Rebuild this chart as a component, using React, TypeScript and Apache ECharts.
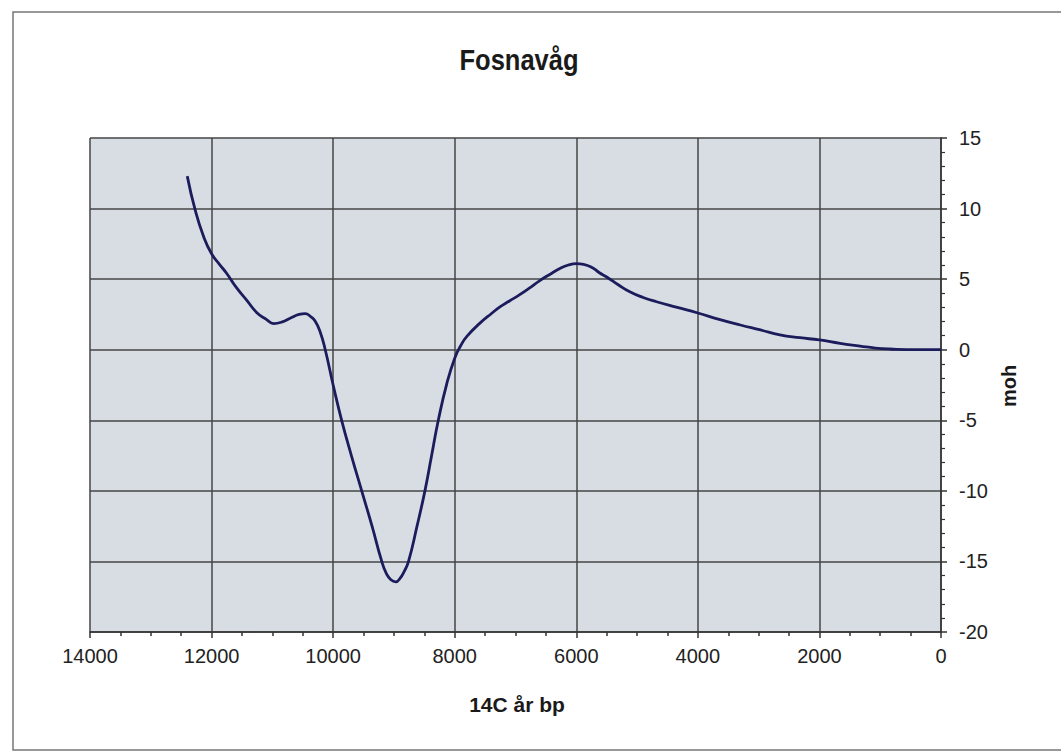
import React, { useEffect, useRef } from "react";
import * as echarts from "echarts";

const titleText = "Fosnavåg";
const xAxisName = "14C år bp";
const yAxisName = "moh";

// years BP (14C)
const years = [
  12400, 12270, 12130, 12000, 11870, 11750, 11600, 11420, 11250, 11100, 10980,
  10850, 10700, 10560, 10460, 10370, 10300, 10220, 10130, 10000, 9860, 9700, 9530,
  9360, 9200, 9120, 9050, 8970, 8900, 8830, 8760, 8620, 8490, 8380, 8270, 8130,
  8000, 7900, 7800, 7580, 7400, 7250, 7100, 6930, 6760, 6600, 6430, 6270, 6130,
  6000, 5880, 5720, 5620, 5500, 5310, 5120, 4900, 4680, 4340, 4000, 3650, 3300,
  2970, 2650, 2320, 2000, 1660, 1330, 1080, 840, 400, 0,
];
// sea level, m above present (moh)
const levels = [
  12.3, 9.9, 8.0, 6.8, 6.05, 5.4, 4.45, 3.5, 2.6, 2.15, 1.85,
  1.95, 2.25, 2.5, 2.55, 2.35, 2.05, 1.35, 0.0, -2.5, -5.0, -7.5, -10.0,
  -12.5, -15.0, -15.9, -16.3, -16.45, -16.2, -15.7, -15.0, -12.5, -10.0, -7.5, -5.0, -2.4,
  -0.6, 0.3, 0.95, 1.9, 2.55, 3.05, 3.45, 3.9, 4.4, 4.9, 5.35, 5.75, 6.0,
  6.1, 6.05, 5.77, 5.45, 5.15, 4.6, 4.1, 3.7, 3.4, 3.0, 2.6, 2.15, 1.75,
  1.4, 1.05, 0.85, 0.69, 0.45, 0.26, 0.12, 0.05, 0.0, 0.0,
];

const FONT = "'Liberation Sans', Arial, Helvetica, sans-serif";

export default function App() {
  const ref = useRef<HTMLDivElement>(null);
  useEffect(() => {
    if (!ref.current) return;
    const chart = echarts.init(ref.current, undefined, { renderer: "svg" });
    const data = years.map((y, i) => [y, levels[i]]);
    chart.setOption({
      animation: false,
      backgroundColor: "#ffffff",
      textStyle: { fontFamily: FONT },
      graphic: [
        {
          type: "rect",
          shape: { x: 13, y: 12, width: 1100, height: 738 },
          style: { fill: "none", stroke: "#777", lineWidth: 1.5 },
          z: -10,
        },
        {
          type: "text",
          x: 519,
          y: 60,
          scaleX: 0.85,
          style: {
            text: titleText,
            fontFamily: FONT,
            fontSize: 30,
            fontWeight: "bold",
            fill: "#1a1a1a",
            textAlign: "center",
            textVerticalAlign: "middle",
          },
        },
        {
          type: "text",
          x: 517,
          y: 704,
          style: {
            text: xAxisName,
            fontFamily: FONT,
            fontSize: 21,
            fontWeight: "bold",
            fill: "#1a1a1a",
            textAlign: "center",
            textVerticalAlign: "middle",
          },
        },
        {
          type: "text",
          x: 1009,
          y: 386,
          rotation: Math.PI / 2,
          style: {
            text: yAxisName,
            fontFamily: FONT,
            fontSize: 20,
            fontWeight: "bold",
            fill: "#1a1a1a",
            textAlign: "center",
            textVerticalAlign: "middle",
          },
        },
      ],
      grid: {
        left: 90,
        right: 120,
        top: 138,
        bottom: 120,
        show: true,
        backgroundColor: "#d8dde4",
        borderWidth: 0,
      },
      xAxis: {
        type: "value",
        inverse: true,
        min: 0,
        max: 14000,
        interval: 2000,
        axisLine: { show: true, onZero: false, lineStyle: { color: "#333", width: 1.5 } },
        axisTick: { show: true, inside: false, length: 6, lineStyle: { color: "#333", width: 1.5 } },
        minorTick: { show: true, splitNumber: 4, length: 4, lineStyle: { color: "#333", width: 1.5 } },
        axisLabel: {
          fontFamily: FONT,
          fontSize: 20,
          color: "#222",
          margin: 14,
          formatter: (v: number) => String(v),
        },
        splitLine: { show: true, lineStyle: { color: "#444", width: 1.5 } },
      },
      yAxis: {
        type: "value",
        position: "right",
        min: -20,
        max: 15,
        interval: 5,
        axisLine: { show: true, onZero: false, lineStyle: { color: "#333", width: 1.5 } },
        axisTick: { show: true, inside: false, length: 6, lineStyle: { color: "#333", width: 1.5 } },
        minorTick: { show: true, splitNumber: 5, length: 4, lineStyle: { color: "#333", width: 1.2 } },
        axisLabel: { fontFamily: FONT, fontSize: 20, color: "#222", margin: 18 },
        splitLine: { show: true, lineStyle: { color: "#444", width: 1.5 } },
      },
      series: [
        {
          type: "line",
          data,
          smooth: 0.5,
          showSymbol: false,
          symbol: "none",
          lineStyle: { color: "#1c1c5c", width: 2.8 },
          z: 5,
        },
      ],
    });
    return () => chart.dispose();
  }, []);
  return (
    <div
      ref={ref}
      style={{ position: "absolute", left: 0, top: 0, width: 1061, height: 752 }}
    />
  );
}
